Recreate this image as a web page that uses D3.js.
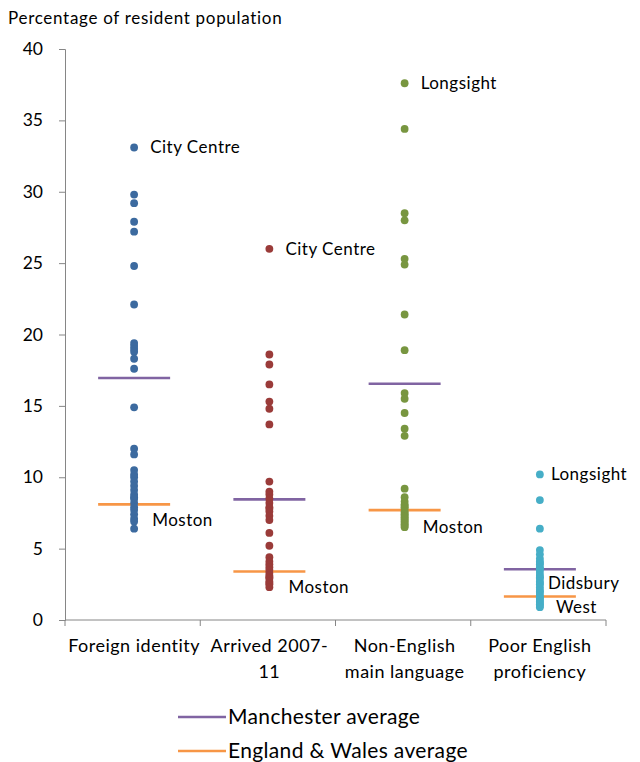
<!DOCTYPE html>
<html>
<head>
<meta charset="utf-8">
<script src="https://cdn.jsdelivr.net/npm/d3@7"></script>
<style>
  body { margin: 0; background: #fff; }
  text { font-family: Lato, "Open Sans", sans-serif; fill: #000; }
</style>
</head>
<body>
<div id="container"></div>
<script>
// categorias y valores por barrio (ward)
var categories = ["Foreign identity", "Arrived 2007-11", "Non-English main language", "Poor English proficiency"];
var categoryLines = [["Foreign identity"], ["Arrived 2007-", "11"], ["Non-English", "main language"], ["Poor English", "proficiency"]];

var foreignIdentity = [33.1, 29.8, 29.2, 27.9, 27.2, 24.8, 22.1, 19.4, 19.2, 19.0, 18.8, 18.3, 17.6, 14.9, 12.0, 11.6,
  10.5, 10.2, 10.0, 9.7, 9.4, 9.1, 8.8, 8.6, 8.5, 8.2, 7.9, 7.7, 7.4, 7.1, 6.9, 6.4];
var arrived = [26.0, 18.6, 17.9, 16.5, 15.3, 14.8, 13.7, 9.7, 9.0, 8.8, 8.5, 8.2, 7.9, 7.8, 7.6, 7.3,
  7.0, 6.1, 5.2, 4.4, 4.1, 3.9, 3.7, 3.5, 3.3, 3.1, 3.0, 2.9, 2.7, 2.6, 2.5, 2.3];
var nonEnglish = [37.6, 34.4, 28.5, 28.0, 25.3, 24.9, 21.4, 18.9, 15.9, 15.5, 14.5, 13.4, 12.9, 9.2, 8.6, 8.3,
  8.1, 8.0, 7.9, 7.8, 7.6, 7.5, 7.4, 7.3, 7.2, 7.1, 7.0, 6.9, 6.8, 6.7, 6.6, 6.5];
var poorEnglish = [10.2, 8.4, 6.4, 4.9, 4.6, 4.3, 4.1, 4.0, 3.9, 3.7, 3.6, 3.5, 3.3, 3.1, 3.0, 2.9,
  2.7, 2.6, 2.5, 2.3, 2.1, 2.0, 1.9, 1.7, 1.6, 1.5, 1.4, 1.3, 1.2, 1.1, 1.0, 0.9];

var manchesterAvg = [16.95, 8.45, 16.55, 3.55];
var englandWalesAvg = [8.1, 3.4, 7.7, 1.65];

var yTicks = [0, 5, 10, 15, 20, 25, 30, 35, 40];

// etiquetas de puntos: categoria, valor donde se centra la etiqueta, texto
var pointLabels = [
  { cat: 0, value: 33.1, lines: ["City Centre"], dx: 16 },
  { cat: 0, value: 7.0, lines: ["Moston"], dx: 18 },
  { cat: 1, value: 26.0, lines: ["City Centre"], dx: 16 },
  { cat: 1, value: 2.3, lines: ["Moston"], dx: 19 },
  { cat: 2, value: 37.6, lines: ["Longsight"], dx: 16 },
  { cat: 2, value: 6.5, lines: ["Moston"], dx: 18 },
  { cat: 3, value: 10.2, lines: ["Longsight"], dx: 11 },
  { cat: 3, value: 1.75, lines: ["Didsbury", "West"], dx: 8 }
];

var series = [foreignIdentity, arrived, nonEnglish, poorEnglish];
var colors = ["#3c6a9f", "#9a3b39", "#789640", "#46aec7"];
var avgColors = ["#8064a2", "#f79646"];
var legendNames = ["Manchester average", "England & Wales average"];

// tamaños
var Width = 640, Height = 762;
var margin = { top: 49, bottom: 142, left: 65, right: 34 };

var svg = d3.select("#container").append("svg")
  .attr("width", Width).attr("height", Height);

var x = d3.scaleBand().domain(d3.range(categories.length))
  .range([margin.left, Width - margin.right]);
var y = d3.scaleLinear().domain([0, 40])
  .range([Height - margin.bottom, margin.top]);
function cx(i) { return x(i) + x.bandwidth() / 2 + 1.5; }

// eje y
var yAxis = svg.append("g")
  .attr("transform", "translate(" + margin.left + ",0)")
  .call(d3.axisLeft(y).tickValues(yTicks).tickSize(6).tickPadding(16));
yAxis.selectAll("path, line").attr("stroke", "#868686");
yAxis.selectAll("text").style("font-size", "17.5px").attr("fill", "#000");

// eje x (ticks en los bordes de categoria)
var xg = svg.append("g").attr("transform", "translate(0," + y(0) + ")");
xg.append("line").attr("x1", margin.left).attr("x2", Width - margin.right)
  .attr("stroke", "#868686");
xg.selectAll(".tk").data(d3.range(categories.length + 1)).enter().append("line")
  .attr("x1", function (d) { return d < categories.length ? x(d) : x(d - 1) + x.bandwidth(); })
  .attr("x2", function (d) { return d < categories.length ? x(d) : x(d - 1) + x.bandwidth(); })
  .attr("y1", 0).attr("y2", 6).attr("stroke", "#868686");

categoryLines.forEach(function (lines, i) {
  var t = xg.append("text").attr("text-anchor", "middle")
    .attr("x", cx(i)).attr("y", 32)
    .style("font-size", "18px").style("letter-spacing", "0.5px");
  lines.forEach(function (l, j) {
    t.append("tspan").attr("x", cx(i)).attr("dy", j ? 26 : 0).text(l);
  });
});

// titulo eje y
svg.append("text").attr("x", 8).attr("y", 24)
  .style("font-size", "17px").style("letter-spacing", "0.7px")
  .text("Percentage of resident population");

// lineas de promedio
var half = 36;
[manchesterAvg, englandWalesAvg].forEach(function (avg, k) {
  svg.selectAll(".avg" + k).data(avg).enter().append("line")
    .attr("x1", function (d, i) { return cx(i) - half; })
    .attr("x2", function (d, i) { return cx(i) + half; })
    .attr("y1", function (d) { return y(d); })
    .attr("y2", function (d) { return y(d); })
    .attr("stroke", avgColors[k]).attr("stroke-width", 2.6);
});

// puntos
series.forEach(function (vals, i) {
  svg.selectAll(".pt" + i).data(vals).enter().append("circle")
    .attr("cx", cx(i))
    .attr("cy", function (d) { return y(d); })
    .attr("r", 3.9)
    .attr("fill", colors[i]);
});

// etiquetas de puntos
pointLabels.forEach(function (p) {
  var n = p.lines.length;
  var t = svg.append("text")
    .attr("y", y(p.value) + 6 - (n - 1) * 12)
    .style("font-size", "17px").style("letter-spacing", "0.5px");
  p.lines.forEach(function (l, j) {
    t.append("tspan").attr("x", cx(p.cat) + p.dx + (j ? 8 : 0))
      .attr("dy", j ? 24 : 0).text(l);
  });
});

// leyenda
legendNames.forEach(function (name, k) {
  var ly = 717 + k * 34;
  svg.append("line").attr("x1", 178).attr("x2", 226).attr("y1", ly).attr("y2", ly)
    .attr("stroke", avgColors[k]).attr("stroke-width", 2.6);
  svg.append("text").attr("x", 228).attr("y", ly + 7)
    .style("font-size", "21px").style("letter-spacing", "0.35px").text(name);
});
</script>
</body>
</html>
